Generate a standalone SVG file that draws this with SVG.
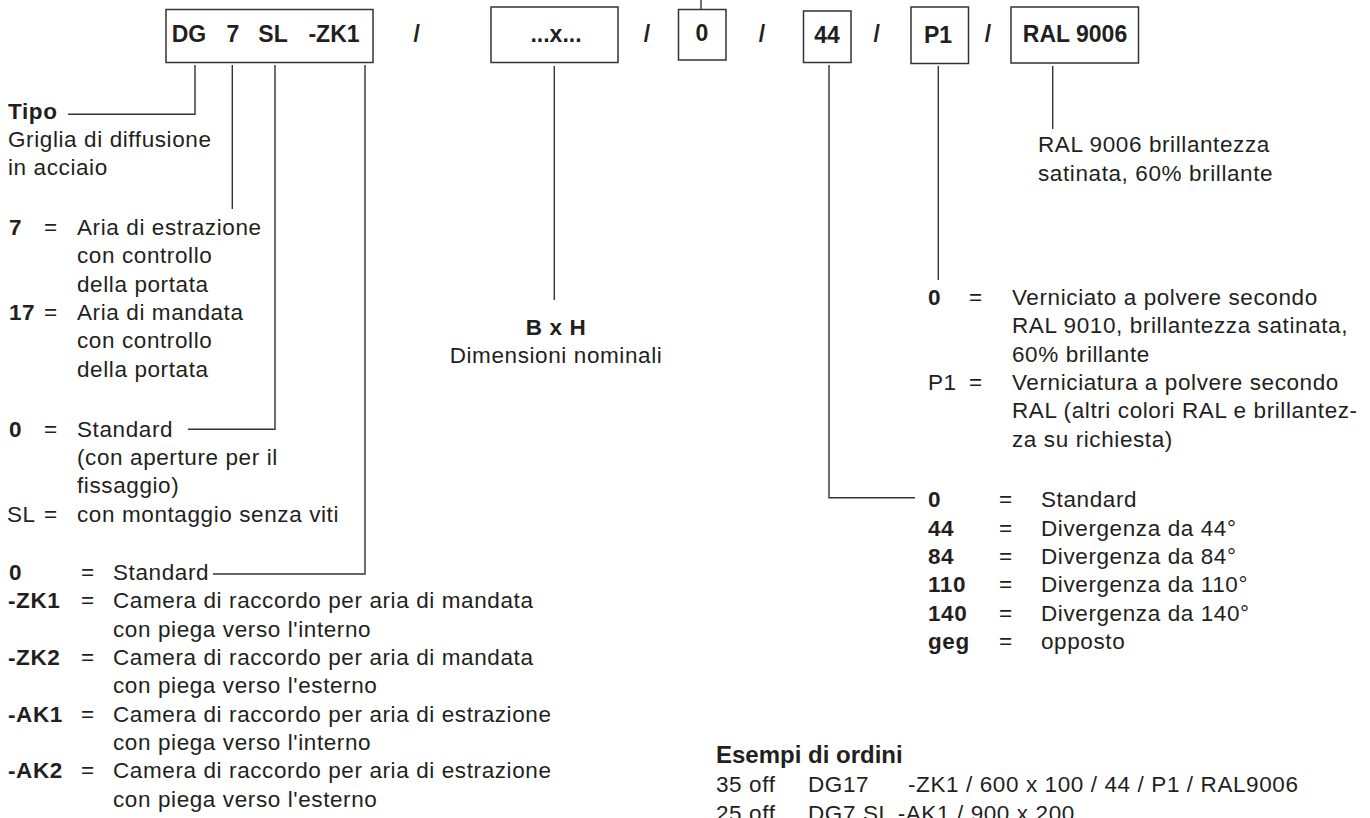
<svg xmlns="http://www.w3.org/2000/svg" width="1370" height="818" viewBox="0 0 1370 818">
<style>
.t{font-family:"Liberation Sans",Arial,Helvetica,sans-serif;font-size:22.5px;letter-spacing:0.6px;fill:#231f20}
.b{font-weight:bold}
.k{font-family:"Liberation Sans",Arial,Helvetica,sans-serif;font-size:23px;font-weight:bold;fill:#231f20;text-anchor:middle}
.h{font-family:"Liberation Sans",Arial,Helvetica,sans-serif;font-size:24px;font-weight:bold;fill:#231f20}
.box{fill:#fff;stroke:#333;stroke-width:1.5}
.ln{fill:none;stroke:#333;stroke-width:1.4}
</style>
<rect width="1370" height="818" fill="#fff"/>
<g id="connectors">
<path class="ln" d="M195,65 V114.3 H68"/>
<path class="ln" d="M232.3,65 V209"/>
<path class="ln" d="M275,65 V429.3 H188"/>
<path class="ln" d="M365,65 V574 H213"/>
<path class="ln" d="M554.3,66 V300"/>
<path class="ln" d="M701,0 V9"/>
<path class="ln" d="M829,65 V497.7 H915"/>
<path class="ln" d="M938.3,66 V280"/>
<path class="ln" d="M1052.7,66 V129"/>
</g>
<g id="code-type">
<rect class="box" x="166" y="9.5" width="207" height="53"/>
<text class="k" x="189" y="42.3">DG</text>
<text class="k" x="233" y="42.3">7</text>
<text class="k" x="273" y="42.3">SL</text>
<text class="k" x="334" y="42.3">-ZK1</text>
</g>
<g id="slashes">
<text class="k" x="416.7" y="42">/</text>
<text class="k" x="647" y="42">/</text>
<text class="k" x="762" y="42">/</text>
<text class="k" x="876.7" y="42">/</text>
<text class="k" x="988" y="42">/</text>
</g>
<g id="code-size">
<rect class="box" x="491" y="7" width="127" height="55.5"/>
<text class="k" x="556" y="41.7">...x...</text>
</g>
<g id="code-0">
<rect class="box" x="678.5" y="9.5" width="47.5" height="50.5"/>
<text class="k" x="702" y="41">0</text>
</g>
<g id="code-44">
<rect class="box" x="803.5" y="11" width="47.5" height="51.5"/>
<text class="k" x="827" y="42.7">44</text>
</g>
<g id="code-p1">
<rect class="box" x="911" y="7" width="57.5" height="56.5"/>
<text class="k" x="938" y="42.7">P1</text>
</g>
<g id="code-ral">
<rect class="box" x="1011" y="7" width="127.5" height="56"/>
<text class="k" x="1075" y="41.7">RAL 9006</text>
</g>
<g id="desc-type">
<text class="t b" x="8" y="118.5">Tipo</text>
<text class="t" x="8" y="146.7">Griglia di diffusione</text>
<text class="t" x="8" y="175">in acciaio</text>
</g>
<g id="desc-7">
<text class="t b" x="9" y="235">7</text>
<text class="t" x="44" y="235">=</text>
<text class="t" x="77" y="235">Aria di estrazione</text>
<text class="t" x="77" y="263.3">con controllo</text>
<text class="t" x="77" y="291.7">della portata</text>
<text class="t b" x="9" y="320">17</text>
<text class="t" x="44" y="320">=</text>
<text class="t" x="77" y="320">Aria di mandata</text>
<text class="t" x="77" y="348.3">con controllo</text>
<text class="t" x="77" y="376.7">della portata</text>
</g>
<g id="desc-sl">
<text class="t b" x="9" y="436.7">0</text>
<text class="t" x="44" y="436.7">=</text>
<text class="t" x="77" y="436.7">Standard</text>
<text class="t" x="77" y="465">(con aperture per il</text>
<text class="t" x="77" y="493.3">fissaggio)</text>
<text class="t" x="7" y="521.7">SL</text>
<text class="t" x="44" y="521.7">=</text>
<text class="t" x="77" y="521.7">con montaggio senza viti</text>
</g>
<g id="desc-zk">
<text class="t b" x="9" y="580">0</text>
<text class="t" x="81" y="580">=</text>
<text class="t" x="113" y="580">Standard</text>
<text class="t b" x="8" y="608.3">-ZK1</text>
<text class="t" x="81" y="608.3">=</text>
<text class="t" x="113" y="608.3">Camera di raccordo per aria di mandata</text>
<text class="t" x="113" y="636.7">con piega verso l'interno</text>
<text class="t b" x="8" y="665">-ZK2</text>
<text class="t" x="81" y="665">=</text>
<text class="t" x="113" y="665">Camera di raccordo per aria di mandata</text>
<text class="t" x="113" y="693.3">con piega verso l'esterno</text>
<text class="t b" x="8" y="721.7">-AK1</text>
<text class="t" x="81" y="721.7">=</text>
<text class="t" x="113" y="721.7">Camera di raccordo per aria di estrazione</text>
<text class="t" x="113" y="750">con piega verso l'interno</text>
<text class="t b" x="8" y="778.3">-AK2</text>
<text class="t" x="81" y="778.3">=</text>
<text class="t" x="113" y="778.3">Camera di raccordo per aria di estrazione</text>
<text class="t" x="113" y="806.7">con piega verso l'esterno</text>
</g>
<g id="desc-size">
<text class="t b" x="556" y="335" text-anchor="middle">B x H</text>
<text class="t" x="556" y="363.3" text-anchor="middle">Dimensioni nominali</text>
</g>
<g id="desc-ral">
<text class="t" x="1038" y="152.3">RAL 9006 brillantezza</text>
<text class="t" x="1038" y="180.6">satinata, 60% brillante</text>
</g>
<g id="desc-p1">
<text class="t b" x="928" y="305">0</text>
<text class="t" x="969" y="305">=</text>
<text class="t" x="1012" y="305">Verniciato a polvere secondo</text>
<text class="t" x="1012" y="333.3">RAL 9010, brillantezza satinata,</text>
<text class="t" x="1012" y="361.7">60% brillante</text>
<text class="t" x="928" y="390">P1</text>
<text class="t" x="969" y="390">=</text>
<text class="t" x="1012" y="390">Verniciatura a polvere secondo</text>
<text class="t" x="1012" y="418.3">RAL (altri colori RAL e brillantez-</text>
<text class="t" x="1012" y="446.7">za su richiesta)</text>
</g>
<g id="desc-44">
<text class="t b" x="928" y="507.3">0</text>
<text class="t" x="999" y="507.3">=</text>
<text class="t" x="1041" y="507.3">Standard</text>
<text class="t b" x="928" y="535.7">44</text>
<text class="t" x="999" y="535.7">=</text>
<text class="t" x="1041" y="535.7">Divergenza da 44°</text>
<text class="t b" x="928" y="564">84</text>
<text class="t" x="999" y="564">=</text>
<text class="t" x="1041" y="564">Divergenza da 84°</text>
<text class="t b" x="928" y="592.3">110</text>
<text class="t" x="999" y="592.3">=</text>
<text class="t" x="1041" y="592.3">Divergenza da 110°</text>
<text class="t b" x="928" y="620.7">140</text>
<text class="t" x="999" y="620.7">=</text>
<text class="t" x="1041" y="620.7">Divergenza da 140°</text>
<text class="t b" x="928" y="649">geg</text>
<text class="t" x="999" y="649">=</text>
<text class="t" x="1041" y="649">opposto</text>
</g>
<g id="examples">
<text class="h" x="716" y="763">Esempi di ordini</text>
<text class="t" x="716" y="792">35 off</text>
<text class="t" x="808" y="792">DG17</text>
<text class="t" x="908" y="792">-ZK1 / 600 x 100 / 44 / P1 / RAL9006</text>
<text class="t" x="716" y="821">25 off</text>
<text class="t" x="808" y="821">DG7 SL -AK1 / 900 x 200</text>
</g>
</svg>
